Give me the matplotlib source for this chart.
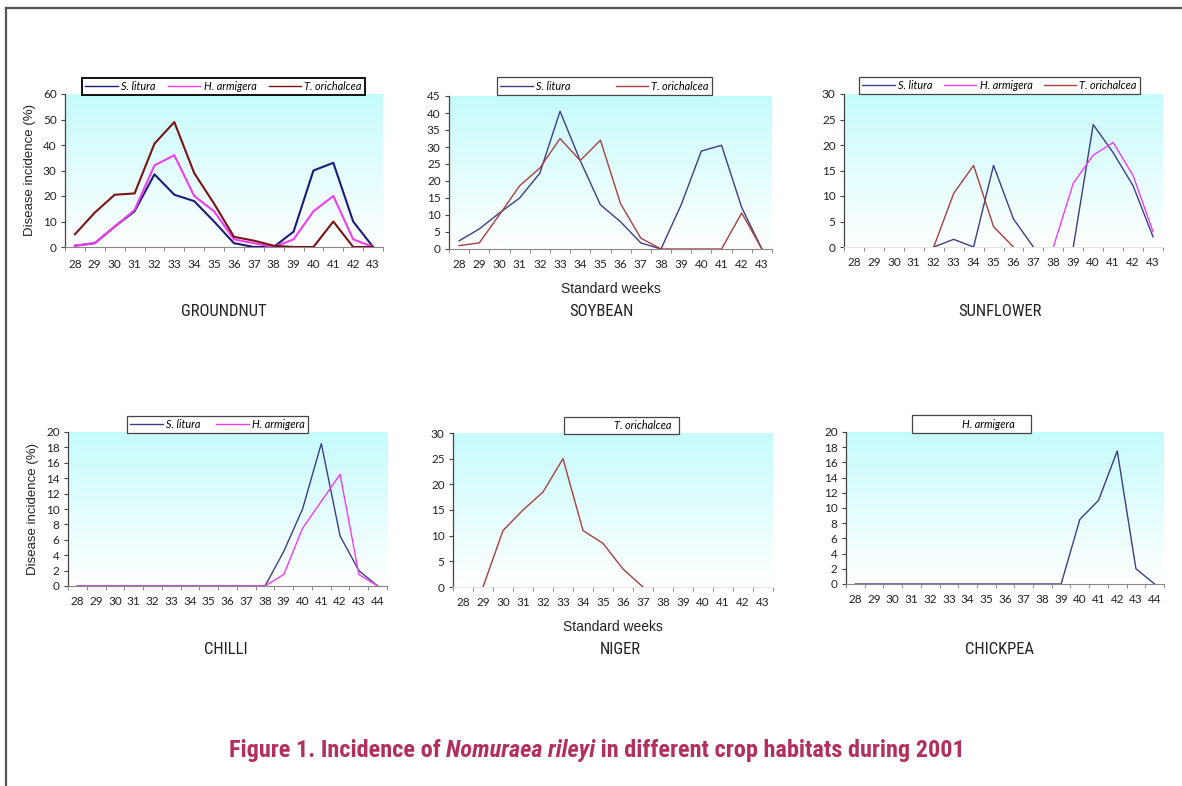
import numpy as np
import matplotlib
matplotlib.use('Agg')
import matplotlib.pyplot as plt
from matplotlib.lines import Line2D
from matplotlib.colors import LinearSegmentedColormap
from matplotlib import font_manager as fm

nan = np.nan
W, H = 1182, 786

# ---------------- data ----------------
weeks_a = list(range(28, 44))   # 28..43
weeks_b = list(range(28, 45))   # 28..44

groundnut_s_litura = [0.5, 1.5, 8, 14, 28.5, 20.5, 18, 10, 1.5, 0, 0, 6, 30, 33, 10, 0]
groundnut_h_armigera = [0.5, 1.5, 8, 14.5, 32, 36, 20, 14, 3, 1.5, 0, 3, 14, 20, 3, 0]
groundnut_t_orichalcea = [5, 13.5, 20.5, 21, 40.5, 49, 29, 17, 4, 2.5, 0.5, 0, 0, 10, 0, 0]

soybean_s_litura = [2.4, 5.9, 10.6, 15, 22.3, 40.5, 26, 13, 8, 1.8, 0, 13, 28.8, 30.5, 12.2, 0]
soybean_t_orichalcea = [1, 1.8, 10.1, 18.6, 23.8, 32.5, 26, 32, 13.3, 3.2, 0, 0, 0, 0, 10.6, 0]

sunflower_s_litura = [nan, nan, nan, nan, 0, 1.5, 0, 16, 5.5, 0, nan, 0, 24, 18.5, 12, 2]
sunflower_h_armigera = [nan, nan, nan, nan, nan, nan, nan, nan, nan, nan, 0, 12.5, 18, 20.5, 14, 3]
sunflower_t_orichalcea = [nan, nan, nan, nan, 0, 10.5, 16, 4, 0, nan, nan, nan, nan, nan, nan, nan]

chilli_s_litura = [0, 0, 0, 0, 0, 0, 0, 0, 0, 0, 0, 4.5, 10, 18.5, 6.5, 2, 0]
chilli_h_armigera = [0, 0, 0, 0, 0, 0, 0, 0, 0, 0, 0, 1.5, 7.5, 11, 14.5, 1.5, 0]

niger_t_orichalcea = [nan, 0, 11, 15, 18.5, 25, 11, 8.5, 3.5, 0, nan, nan, nan, nan, nan, nan]

chickpea_h_armigera = [0, 0, 0, 0, 0, 0, 0, 0, 0, 0, 0, 0, 8.5, 11, 17.5, 2, 0]

crop_titles = ["GROUNDNUT", "SOYBEAN", "SUNFLOWER", "CHILLI", "NIGER", "CHICKPEA"]
ylabel_text = "Disease incidence (%)"
xlabel_text = "Standard weeks"

# ---------------- fonts ----------------
avail = {f.name for f in fm.fontManager.ttflist}
def pick(*names):
    for n in names:
        if n in avail:
            return n
    return 'DejaVu Sans'
narrow = pick('Liberation Sans Narrow', 'Roboto Condensed', 'Liberation Sans')
sans = pick('Liberation Sans', 'DejaVu Sans')
tickfont = pick('Lato', 'DejaVu Sans')

plt.rcParams['font.family'] = [tickfont, 'DejaVu Sans']

fig = plt.figure(figsize=(W / 100, H / 100), dpi=100)

grad = LinearSegmentedColormap.from_list('g', ['#ffffff', '#c6fbfb'])

def px_axes(x0, y0, x1, y1):
    return fig.add_axes([x0 / W, 1 - y1 / H, (x1 - x0) / W, (y1 - y0) / H])

def setup(ax, weeks, ymax, ystep, xpad=7):
    n = len(weeks)
    ax.imshow(np.linspace(0, 1, 256).reshape(-1, 1), cmap=grad, origin='lower',
              extent=[0, 1, 0, 1], transform=ax.transAxes, aspect='auto', zorder=0)
    ax.set_xlim(-0.5, n - 0.5)
    ax.set_ylim(0, ymax)
    ax.set_xticks(range(n))
    ax.set_xticklabels([str(w) for w in weeks], fontsize=8.5, color='#222')
    ax.set_xticks(np.arange(-0.5, n, 1.0), minor=True)
    ax.tick_params(axis='x', which='major', length=0, pad=xpad)
    ax.tick_params(axis='x', which='minor', length=3, color='#777', direction='out')
    ax.set_yticks(range(0, ymax + 1, ystep))
    ax.tick_params(axis='y', labelsize=8.5, length=3, color='#444', labelcolor='#222', pad=3)
    for s in ['top', 'right']:
        ax.spines[s].set_visible(False)
    ax.spines['left'].set_color('#444')
    ax.spines['left'].set_linewidth(0.9)
    ax.spines['bottom'].set_color('#888')
    ax.spines['bottom'].set_linewidth(0.8)

def legend(ax, items, box, border='#444', lw=0.9, hl=3.0):
    x0, y0, x1, y1 = box
    handles = [Line2D([], [], color=c, lw=1.0) for c, _ in items]
    labels = [l for _, l in items]
    leg = ax.legend(handles, labels, loc='center',
                    bbox_to_anchor=(x0 / W, 1 - y1 / H, (x1 - x0) / W, (y1 - y0) / H),
                    bbox_transform=fig.transFigure, mode='expand', ncol=len(items),
                    frameon=True, fancybox=False, framealpha=1, edgecolor=border,
                    prop={'style': 'italic', 'size': 7.8}, handlelength=hl,
                    handletextpad=0.3, borderpad=0.3, columnspacing=0.8, borderaxespad=0)
    leg.get_frame().set_linewidth(lw)
    leg.set_zorder(10)
    return leg

NAVY = '#1c1c78'
MAG = '#f23cf2'
MAROON = '#7a1414'
SLATE = '#3e3e86'
BRICK = '#a8403e'

# ---- Groundnut ----
ax1 = px_axes(65, 94, 383, 247)
setup(ax1, weeks_a, 60, 10, xpad=9)
x = range(len(weeks_a))
ax1.plot(x, groundnut_s_litura, color=NAVY, lw=1.5, zorder=3)
ax1.plot(x, groundnut_h_armigera, color=MAG, lw=1.5, zorder=3)
ax1.plot(x, groundnut_t_orichalcea, color=MAROON, lw=1.5, zorder=3)
legend(ax1, [(NAVY, 'S. litura'), (MAG, 'H. armigera'), (MAROON, 'T. orichalcea')],
       (82, 76, 365, 97), border='#111', lw=1.4)
ax1.set_ylabel(ylabel_text, fontsize=9.5, family=sans, color='#222', labelpad=5)

# ---- Soybean ----
ax2 = px_axes(449, 96, 772, 249)
setup(ax2, weeks_a, 45, 5)
ax2.plot(x, soybean_s_litura, color=SLATE, lw=1.0, zorder=3)
ax2.plot(x, soybean_t_orichalcea, color=BRICK, lw=1.0, zorder=3)
legend(ax2, [(SLATE, 'S. litura'), (BRICK, 'T. orichalcea')], (497, 75, 712, 97))
ax2.set_xlabel(xlabel_text, fontsize=10, family=sans, color='#222', labelpad=9)

# ---- Sunflower ----
ax3 = px_axes(844, 94, 1163, 247)
setup(ax3, weeks_a, 30, 5)
ax3.spines['bottom'].set_color('#e6e6e6')
ax3.plot(x, sunflower_s_litura, color=SLATE, lw=1.0, zorder=3)
ax3.plot(x, sunflower_h_armigera, color=MAG, lw=1.0, zorder=3)
ax3.plot(x, sunflower_t_orichalcea, color=BRICK, lw=1.0, zorder=3)
legend(ax3, [(SLATE, 'S. litura'), (MAG, 'H. armigera'), (BRICK, 'T. orichalcea')],
       (859, 76, 1140, 95))

# ---- Chilli ----
xb = range(len(weeks_b))
ax4 = px_axes(68, 432, 387, 586)
setup(ax4, weeks_b, 20, 2)
ax4.plot(xb, chilli_s_litura, color=SLATE, lw=1.0, zorder=3)
ax4.plot(xb, chilli_h_armigera, color=MAG, lw=1.0, zorder=3)
legend(ax4, [(SLATE, 'S. litura'), (MAG, 'H. armigera')], (127, 414, 308, 435))
ax4.set_ylabel(ylabel_text, fontsize=9.5, family=sans, color='#222', labelpad=5)

# ---- Niger ----
ax5 = px_axes(453, 433, 773, 587)
setup(ax5, weeks_a, 30, 5)
ax5.spines['bottom'].set_color('#e6e6e6')
ax5.plot(x, niger_t_orichalcea, color=BRICK, lw=1.0, zorder=3)
legend(ax5, [('none', 'T. orichalcea')], (564, 415, 679, 436), hl=4.0)
ax5.set_xlabel(xlabel_text, fontsize=10, family=sans, color='#222', labelpad=9)

# ---- Chickpea ----
ax6 = px_axes(846, 432, 1164, 584)
setup(ax6, weeks_b, 20, 2)
ax6.plot(xb, chickpea_h_armigera, color=SLATE, lw=1.0, zorder=3)
legend(ax6, [('none', 'H. armigera')], (912, 414, 1031, 434), hl=4.0)

# crop names
title_pos = [(224, 312), (601, 312), (1000, 312), (226, 649), (620, 649), (1000, 649)]
for name, (tx, ty) in zip(crop_titles, title_pos):
    fig.text(tx / W, 1 - ty / H, name, ha='center', va='center', fontsize=12,
             family=narrow, color='#222')

# outer frame
fig.add_artist(Line2D([6 / W, 1], [1 - 8 / H, 1 - 8 / H], transform=fig.transFigure,
                      color='#555', lw=1.6))
fig.add_artist(Line2D([6 / W, 6 / W], [0, 1 - 8 / H], transform=fig.transFigure,
                      color='#555', lw=1.6))

# caption with mixed styles
cap_color = '#b3305c'
parts = [("Figure 1. Incidence of ", 'normal'), ("Nomuraea rileyi", 'italic'),
         (" in different crop habitats during 2001", 'normal')]
cy = 1 - 750 / H
texts = []
for s, st in parts:
    t = fig.text(0, cy, s, fontsize=17.5, fontweight='bold', style=st, family=narrow,
                 color=cap_color, ha='left', va='center')
    texts.append(t)
fig.canvas.draw()
r = fig.canvas.get_renderer()
widths = [t.get_window_extent(r).width for t in texts]
total = sum(widths)
xs = 597 - total / 2
for t, w in zip(texts, widths):
    t.set_x(xs / W)
    xs += w

fig.savefig('out.png', dpi=100)
